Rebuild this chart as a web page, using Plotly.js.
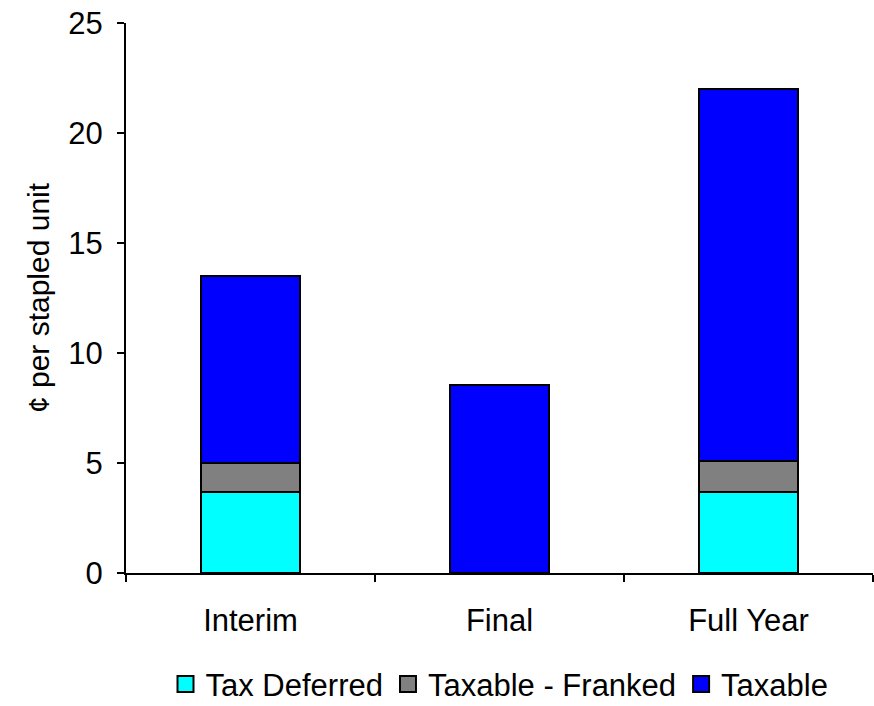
<!DOCTYPE html>
<html>
<head>
<meta charset="utf-8">
<script src="https://cdn.plot.ly/plotly-3.0.1.min.js"></script>
<style>html,body{margin:0;padding:0;background:#fff;}#chart{width:874px;height:706px;}</style>
</head>
<body>
<div id="chart"></div>
<script>
const categories = ["Interim", "Final", "Full Year"];
const taxDeferred = [3.68, 0, 3.68];
const taxableFranked = [1.32, 0, 1.40];
const taxable = [8.5, 8.55, 16.92];
const seriesNames = ["Tax Deferred", "Taxable - Franked", "Taxable"];
const seriesColors = ["#00FFFF", "#808080", "#0000FF"];
const yTicks = [0, 5, 10, 15, 20, 25];

const font = "Liberation Sans, Arial, Helvetica, sans-serif";
const bars = [taxDeferred, taxableFranked, taxable].map((vals, i) => ({
  type: "bar",
  name: seriesNames[i],
  x: categories,
  y: vals,
  width: 0.4,
  showlegend: false,
  marker: {color: seriesColors[i], line: {color: "#000", width: 2}},
  hoverinfo: "none"
}));
const legendItems = seriesNames.map((n, i) => ({
  type: "scatter", mode: "markers", name: n,
  x: [null], y: [null],
  marker: {symbol: "square", size: 16, color: seriesColors[i], line: {color: "#000", width: 2}},
  hoverinfo: "none"
}));

const layout = {
  width: 874, height: 706,
  margin: {l: 126, r: 1, t: 23, b: 133, autoexpand: false},
  barmode: "stack",
  paper_bgcolor: "#fff", plot_bgcolor: "#fff",
  font: {family: font, size: 31, color: "#000"},
  showlegend: true,
  legend: {orientation: "h", x: 0.5, xanchor: "center", y: -0.2515, yanchor: "bottom",
           font: {size: 31, family: font}, traceorder: "normal", itemwidth: 30, tracegroupgap: 0},
  xaxis: {
    type: "category",
    tickson: "boundaries",
    ticks: "outside", ticklen: 7, tickwidth: 2, tickcolor: "#000",
    showline: true, linecolor: "#000", linewidth: 2,
    showgrid: false, zeroline: false,
    tickfont: {size: 31, family: font},
    ticklabelstandoff: 19,
    range: [-0.5, 2.5]
  },
  yaxis: {
    range: [0, 25],
    tickmode: "array", tickvals: yTicks, ticktext: yTicks.map(String),
    ticks: "outside", ticklen: 7, tickwidth: 2, tickcolor: "#000",
    showline: true, linecolor: "#000", linewidth: 2,
    showgrid: false, zeroline: false,
    tickfont: {size: 31, family: font},
    ticklabelstandoff: 8,
    title: {text: "¢ per stapled unit", font: {size: 30, family: font}, standoff: 10}
  }
};

Plotly.newPlot("chart", bars.concat(legendItems), layout, {displayModeBar: false, staticPlot: true});
</script>
</body>
</html>
